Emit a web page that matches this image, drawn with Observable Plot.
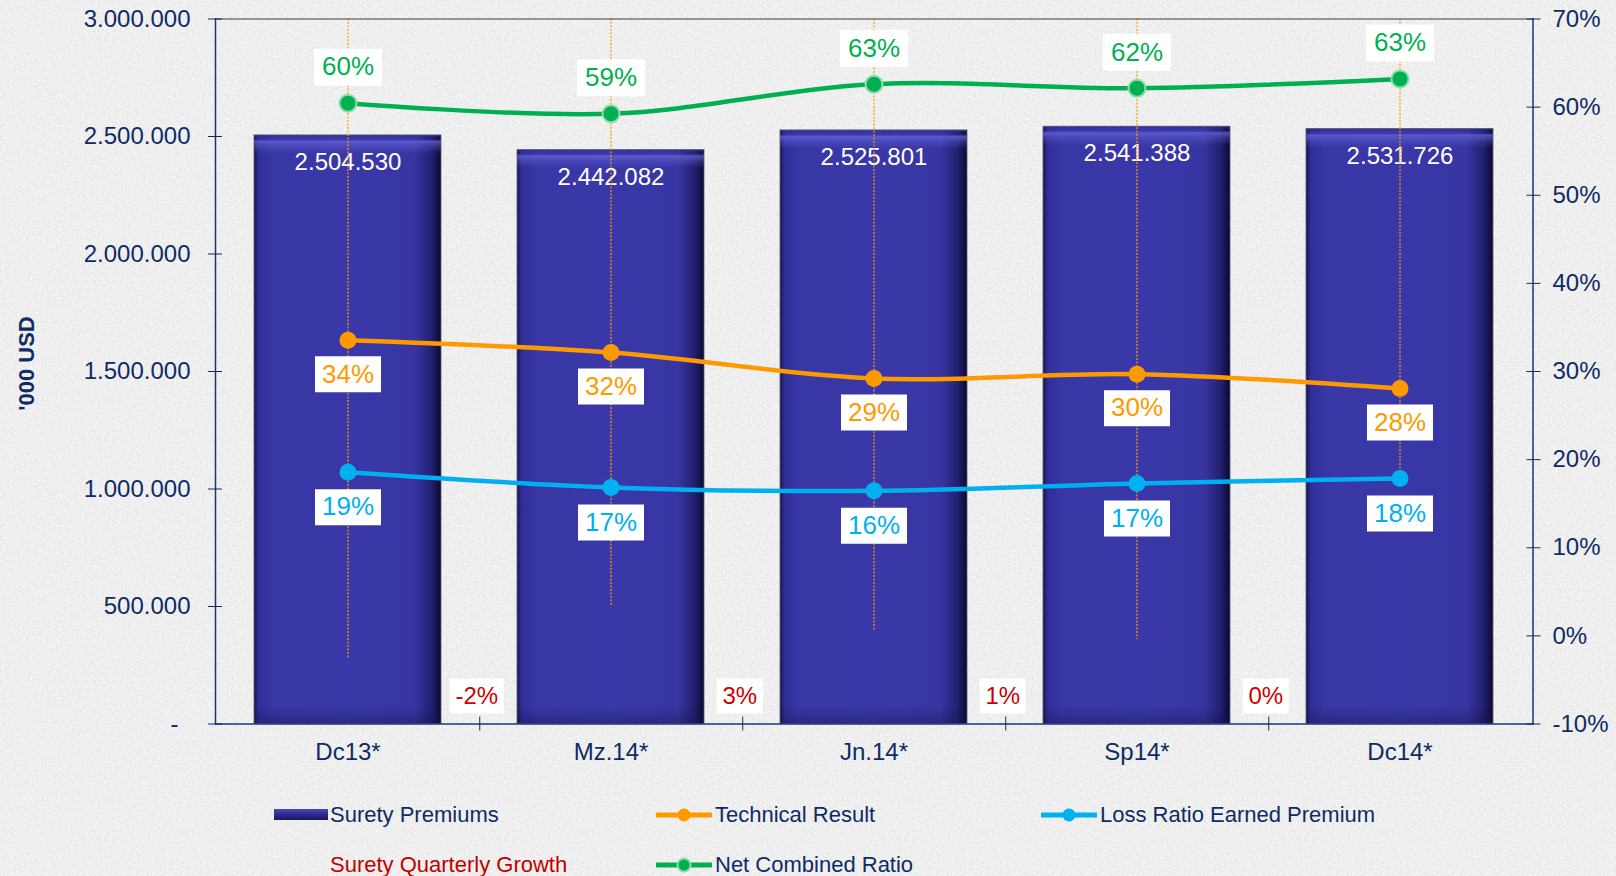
<!DOCTYPE html>
<html>
<head>
<meta charset="utf-8">
<script src="https://cdn.jsdelivr.net/npm/d3@7"></script>
<script src="https://cdn.jsdelivr.net/npm/@observablehq/plot@0.6"></script>
<style>
  html, body { margin: 0; padding: 0; }
  body {
    width: 1616px; height: 876px; overflow: hidden;
    font-family: "Liberation Sans", Arial, sans-serif;
    background-color: #e9e9e9;
    background-image: url("data:image/svg+xml;utf8,<svg xmlns='http://www.w3.org/2000/svg' width='400' height='400'><filter id='n'><feTurbulence type='fractalNoise' baseFrequency='0.55' numOctaves='3' seed='4'/><feColorMatrix values='0 0 0 0 1  0 0 0 0 1  0 0 0 0 1  1.6 0 0 0 -0.55'/></filter><rect width='100%' height='100%' filter='url(%23n)'/></svg>");
  }
  #wrap { position: relative; width: 1616px; height: 876px; }
  #legend { position: absolute; left: 0; top: 776px; width: 1616px; height: 100px; overflow: hidden; }
  .lg-item { position: absolute; height: 26px; line-height: 26px; font-size: 22px; color: #0f2b64; white-space: nowrap; }
  .lg-sw { position: absolute; }
</style>
</head>
<body>
<div id="wrap">
  <div id="chart"></div>
  <div id="legend"></div>
</div>
<script>
// ---------------- DATA ----------------
const categories = ["Dc13*", "Mz.14*", "Jn.14*", "Sp14*", "Dc14*"];
const suretyPremiums = [2504530, 2442082, 2525801, 2541388, 2531726];
const technicalResult = [33.55, 32.15, 29.2, 29.7, 28.07];
const lossRatioEarnedPremium = [18.58, 16.85, 16.46, 17.3, 17.87];
const netCombinedRatio = [60.45, 59.25, 62.6, 62.15, 63.2];
// growth toward the next quarter (shown between the bars)
const suretyQuarterlyGrowth = [-2.5, 3.4, 0.6, -0.4];
const leftTicks = [0, 500000, 1000000, 1500000, 2000000, 2500000, 3000000];
const rightTicks = [-10, 0, 10, 20, 30, 40, 50, 60, 70];

// ---------------- SETUP ----------------
const navy = "#0f2b64";
const green = "#00b050", orange = "#ff9900", blue = "#00b0f0", red = "#cc0000";
const W = 1616, H = 776;
const mL = 215, mR = 83.5, mT = 18.5, mB = 52.5;
const yMax = leftTicks[leftTicks.length - 1];
const pMin = rightTicks[0], pMax = rightTicks[rightTicks.length - 1];
const P = p => (p - pMin) / (pMax - pMin) * yMax;          // percent -> left-scale units
const Pinv = v => v / yMax * (pMax - pMin) + pMin;
const step = (W - mL - mR) / categories.length;

const loc = d3.formatLocale({decimal: ",", thousands: ".", grouping: [3], currency: ["", ""]});
const fmtN = loc.format(",d");
const pct = v => `${Math.round(v)}%`;

const rows = categories.map((c, i) => ({
  cat: c,
  prem: suretyPremiums[i],
  tr: technicalResult[i],
  lr: lossRatioEarnedPremium[i],
  ncr: netCombinedRatio[i],
  g: suretyQuarterlyGrowth[i]
}));
rows.forEach(d => {
  d.low = d3.min([d.g, d.tr, d.lr, d.ncr].filter(v => v != null));
});
const growthRows = rows.filter(d => d.g != null);

const boxSymbol = (w, h) => ({ draw(ctx) { ctx.rect(-w / 2, -h / 2, w, h); } });
const growthBox = { draw(ctx, size) { const hw = Math.sqrt(size / Math.PI); ctx.rect(-hw, -17.5, 2 * hw, 35); } };

const chart = Plot.plot({
  width: W, height: H,
  marginLeft: mL, marginRight: mR, marginTop: mT, marginBottom: mB,
  style: { background: "transparent", fontFamily: "'Liberation Sans', Arial, sans-serif", overflow: "visible" },
  x: { domain: categories, paddingInner: 0.29, paddingOuter: 0.145, axis: null },
  y: { domain: [0, yMax], axis: null },
  r: { type: "identity" },
  marks: [
    // bars
    Plot.barY(rows, { x: "cat", y: "prem", fill: "url(#barGrad)" }),
    Plot.barY(rows, { x: "cat", y: "prem", fill: "url(#barHi)", stroke: "#5a5a78", strokeWidth: 1, strokeOpacity: 0.8 }),
    Plot.text(rows, { x: "cat", y: "prem", text: d => fmtN(d.prem), dy: 27, fill: "white", fontSize: 24 }),
    // high-low drop lines
    Plot.ruleX(rows, { x: "cat", y1: P(pMax), y2: d => P(d.low), stroke: orange, strokeWidth: 1.2, strokeDasharray: "2,1.5" }),
    // lines
    Plot.line(rows, { x: "cat", y: d => P(d.ncr), stroke: green, strokeWidth: 4.5, curve: "catmull-rom" }),
    Plot.line(rows, { x: "cat", y: d => P(d.tr), stroke: orange, strokeWidth: 4.5, curve: "catmull-rom" }),
    Plot.line(rows, { x: "cat", y: d => P(d.lr), stroke: blue, strokeWidth: 4.5, curve: "catmull-rom" }),
    Plot.dot(rows, { x: "cat", y: d => P(d.ncr), r: 8.5, fill: green, stroke: "#8edcad", strokeWidth: 2 }),
    Plot.dot(rows, { x: "cat", y: d => P(d.tr), r: 8.5, fill: orange }),
    Plot.dot(rows, { x: "cat", y: d => P(d.lr), r: 8.5, fill: blue }),
    // value label boxes + labels
    Plot.dot(rows, { x: "cat", y: d => P(d.ncr), dy: -36, symbol: boxSymbol(68, 37), fill: "white" }),
    Plot.dot(rows, { x: "cat", y: d => P(d.tr), dy: 34, symbol: boxSymbol(66, 36), fill: "white" }),
    Plot.dot(rows, { x: "cat", y: d => P(d.lr), dy: 35, symbol: boxSymbol(66, 36), fill: "white" }),
    Plot.text(rows, { x: "cat", y: d => P(d.ncr), dy: -36, text: d => pct(d.ncr), fill: green, fontSize: 26 }),
    Plot.text(rows, { x: "cat", y: d => P(d.tr), dy: 34, text: d => pct(d.tr), fill: orange, fontSize: 26 }),
    Plot.text(rows, { x: "cat", y: d => P(d.lr), dy: 35, text: d => pct(d.lr), fill: blue, fontSize: 26 }),
    // quarterly growth labels between bars
    Plot.dot(growthRows, { x: "cat", frameAnchor: "bottom", dx: step / 2 - 3, dy: -28, r: d => (8 * pct(d.g).length + 30) / 2, symbol: growthBox, fill: "white" }),
    Plot.text(growthRows, { x: "cat", frameAnchor: "bottom", lineAnchor: "middle", dx: step / 2 - 3, dy: -28, text: d => pct(d.g), fill: red, fontSize: 24 }),
    // frame
    Plot.frame({ anchor: "top", stroke: "#3a3a3a", strokeWidth: 1 }),
    Plot.frame({ anchor: "left", stroke: "#1d3577", strokeWidth: 1.5 }),
    Plot.frame({ anchor: "right", stroke: "#1d3577", strokeWidth: 1.5 }),
    Plot.frame({ anchor: "bottom", stroke: "#1d3577", strokeWidth: 1.5 }),
    // axes
    Plot.axisY(leftTicks, { anchor: "left", label: null, tickSize: 14, dx: 7, tickPadding: 18, fontSize: 24, color: navy,
      tickFormat: d => d === 0 ? "-\u2002" : fmtN(d) }),
    Plot.axisY(rightTicks.map(P), { anchor: "right", label: null, tickSize: 14, dx: -7, tickPadding: 12.5, fontSize: 24, color: navy,
      tickFormat: d => `${Math.round(Pinv(d))}%` }),
    Plot.axisX(categories, { anchor: "bottom", label: null, tickSize: 0, tickPadding: 19, fontSize: 24, color: navy }),
    Plot.axisX(categories.slice(0, categories.length - 1), { anchor: "bottom", label: null, tickSize: 14, dx: step / 2, dy: -7, color: navy, tickFormat: () => "" }),
    // y title
    Plot.text(["'000 USD"], { text: d => d, frameAnchor: "left", textAnchor: "middle", dx: -189, dy: -8, rotate: -90, fontWeight: "bold", fontSize: 22, fill: navy })
  ]
});

// gradients for the glossy bars
const defs = d3.select(chart).insert("defs", ":first-child");
const hg = defs.append("linearGradient").attr("id", "barGrad").attr("x1", 0).attr("x2", 1).attr("y1", 0).attr("y2", 0);
[[0, "#17164d"], [0.025, "#302e98"], [0.1, "#3936a5"], [0.5, "#3a38a8"], [0.86, "#3835a3"], [0.95, "#221f70"], [1, "#0b0a30"]]
  .forEach(([o, c]) => hg.append("stop").attr("offset", o).attr("stop-color", c));
const vg = defs.append("linearGradient").attr("id", "barHi").attr("x1", 0).attr("x2", 0).attr("y1", 0).attr("y2", 1);
[[0, "#2a2880", 0.7], [0.006, "#3a38a8", 0.0], [0.011, "#6664d8", 0.75], [0.02, "#6664d8", 0.35], [0.032, "#6664d8", 0], [0.97, "#101040", 0], [1, "#101040", 0.35]]
  .forEach(([o, c, a]) => vg.append("stop").attr("offset", o).attr("stop-color", c).attr("stop-opacity", a));

document.getElementById("chart").appendChild(chart);

// ---------------- LEGEND ----------------
const legendItems = [
  { label: "Surety Premiums", kind: "bar", left: 274, row: 0 },
  { label: "Technical Result", kind: "line", color: orange, left: 656, row: 0 },
  { label: "Loss Ratio Earned Premium", kind: "line", color: blue, left: 1041, row: 0 },
  { label: "Surety Quarterly Growth", kind: "none", left: 274, row: 1, textColor: "#c00000" },
  { label: "Net Combined Ratio", kind: "line", color: green, ring: "#8edcad", left: 656, row: 1 }
];
const legend = document.getElementById("legend");
legendItems.forEach(it => {
  const cy = it.row === 0 ? 39 : 89;
  if (it.kind === "bar") {
    const sw = document.createElement("div");
    sw.className = "lg-sw";
    Object.assign(sw.style, { left: it.left + "px", top: (cy - 6) + "px", width: "54px", height: "11px",
      background: "linear-gradient(to bottom, #4a48b4, #2c2a8e 50%, #1a185e)" });
    legend.appendChild(sw);
  } else if (it.kind === "line") {
    const ns = "http://www.w3.org/2000/svg";
    const s = document.createElementNS(ns, "svg");
    s.setAttribute("width", 56); s.setAttribute("height", 20);
    s.setAttribute("class", "lg-sw");
    s.style.left = it.left + "px"; s.style.top = (cy - 10) + "px";
    const l = document.createElementNS(ns, "line");
    l.setAttribute("x1", 1); l.setAttribute("x2", 55); l.setAttribute("y1", 10); l.setAttribute("y2", 10);
    l.setAttribute("stroke", it.color); l.setAttribute("stroke-width", 5); l.setAttribute("stroke-linecap", "round");
    const c = document.createElementNS(ns, "circle");
    c.setAttribute("cx", 28); c.setAttribute("cy", 10); c.setAttribute("r", 6.5); c.setAttribute("fill", it.color);
    if (it.ring) { c.setAttribute("stroke", it.ring); c.setAttribute("stroke-width", 2); }
    s.appendChild(l); s.appendChild(c);
    legend.appendChild(s);
  }
  const t = document.createElement("div");
  t.className = "lg-item";
  t.textContent = it.label;
  const off = it.kind === "line" ? 59 : 56;
  Object.assign(t.style, { left: (it.left + off) + "px", top: (cy - 13) + "px" });
  if (it.textColor) t.style.color = it.textColor;
  legend.appendChild(t);
});
</script>
</body>
</html>
